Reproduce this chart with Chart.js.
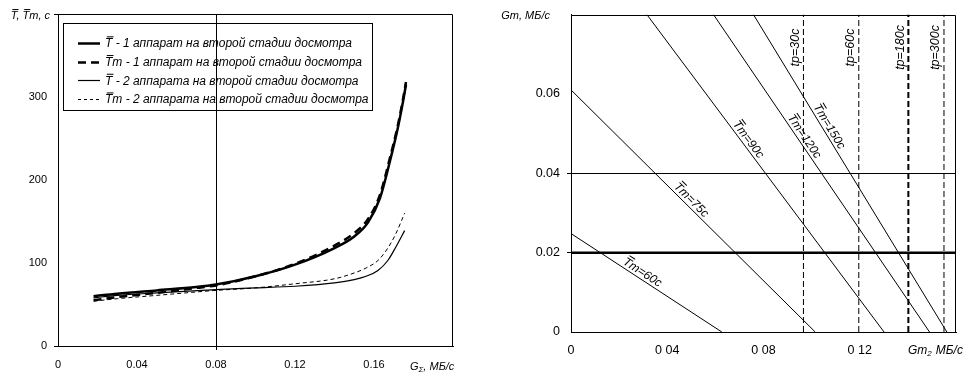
<!DOCTYPE html>
<html>
<head>
    <title>Время досмотра</title>
    <script src="https://cdn.jsdelivr.net/npm/chart.js"></script>
    <style>
        body { margin: 0; background: #fff; }
        canvas { position: absolute; top: 0; }
        #leftChart { left: 0; }
        #rightChart { left: 488px; }
    </style>
</head>
<body>
    <canvas id="leftChart" width="488" height="383"></canvas>
    <canvas id="rightChart" width="488" height="383"></canvas>

    <script>
        // left chart: T and Tm vs G
        const leftXTicks = ['0', '0.04', '0.08', '0.12', '0.16', ''];
        const leftYTicks = ['0', '100', '200', '300', ''];
        const legendLabels = [
            'T - 1 аппарат на второй стадии досмотра',
            'Tm - 1 аппарат на второй стадии досмотра',
            'T - 2 аппарата на второй стадии досмотра',
            'Tm - 2 аппарата на второй стадии досмотра'
        ];
        const g1 = [0.018, 0.03, 0.05, 0.07, 0.08, 0.1, 0.12, 0.14, 0.15, 0.157, 0.163, 0.168, 0.172, 0.1745, 0.1762];
        const t1 = [60, 63, 67, 71, 74, 84, 98, 118, 132, 149, 178, 222, 262, 292, 315];
        const tm1 = [55, 59, 64, 70, 73, 84, 99, 121, 136, 153, 182, 226, 265, 295, 318];
        const g2 = [0.018, 0.03, 0.05, 0.08, 0.1, 0.12, 0.14, 0.15, 0.156, 0.162, 0.167, 0.171, 0.1755];
        const t2 = [58, 61, 64, 68, 70, 72, 76, 80, 84, 91, 103, 119, 139];
        const tm2 = [54, 57, 61, 67, 70, 75, 81, 88, 94, 103, 118, 135, 160];

        // right chart: Tm and tp lines
        const rightXTicks = ['0', '0 04', '0 08', '0 12', ''];
        const rightYTicks = ['0', '0.02', '0.04', '0.06', ''];
        const tmNames = ['Tm=60с', 'Tm=75с', 'Tm=90с', 'Tm=120с', 'Tm=150с'];
        const tmStartX = [0, 0, 0.0315, 0.0592, 0.0758];
        const tmStartY = [0.0248, 0.061, 0.08, 0.08, 0.08];
        const tmEndX = [0.0627, 0.1015, 0.1301, 0.149, 0.1562];
        const tmEndY = [0, 0, 0, 0, 0];
        const tpNames = ['tp=30с', 'tp=60с', 'tp=180с', 'tp=300с'];
        const tpX = [0.0966, 0.1196, 0.1402, 0.155];
        const limitG = 0.02; // thick horizontal line

        const FONT = "'Liberation Sans', Arial, sans-serif";
        const toPts = (xs, ys) => xs.map((x, i) => ({ x: x, y: ys[i] }));
        const near = (a, b) => Math.abs(a - b) < 1e-9;

        // draws text where every 'T' gets a bar over it
        function barText(ctx, text, x, y, align) {
            const w = ctx.measureText(text).width;
            let x0 = x;
            if (align === 'right') x0 = x - w;
            if (align === 'center') x0 = x - w / 2;
            ctx.textAlign = 'left';
            ctx.fillText(text, x0, y);
            const fs = parseFloat(ctx.font.match(/([\d.]+)px/)[1]);
            const mt = ctx.measureText('T');
            const top = y - mt.actualBoundingBoxAscent;
            let idx = text.indexOf('T');
            while (idx >= 0) {
                const a = ctx.measureText(text.slice(0, idx)).width;
                ctx.fillRect(x0 + a + fs * 0.15, top - 2, mt.width - fs * 0.05, 1);
                idx = text.indexOf('T', idx + 1);
            }
            return w;
        }

        // top and right edges of the plot box (left/bottom come from the axes)
        const framePlugin = {
            id: 'frame',
            afterDatasetsDraw(chart) {
                const a = chart.chartArea, ctx = chart.ctx;
                const t = Math.round(a.top) + 0.5, r = Math.round(a.right) - 0.5;
                ctx.save();
                ctx.strokeStyle = '#000';
                ctx.lineWidth = 1;
                ctx.beginPath();
                ctx.moveTo(Math.round(a.left), t);
                ctx.lineTo(r, t);
                ctx.lineTo(r, Math.round(a.bottom));
                ctx.stroke();
                ctx.restore();
            }
        };

        const leftDeco = {
            id: 'leftDeco',
            afterDraw(chart) {
                const ctx = chart.ctx, xs = chart.scales.x, ys = chart.scales.y;
                ctx.save();
                ctx.fillStyle = '#000';
                ctx.textBaseline = 'middle';
                ctx.font = 'italic 11px ' + FONT;
                barText(ctx, 'T, Tm, c', 50, ys.getPixelForValue(400) + 2, 'right');
                // x axis title with subscript
                let gx = xs.getPixelForValue(0.2) - 43, gy = 367;
                ctx.textAlign = 'left';
                ctx.fillText('G', gx, gy);
                gx += ctx.measureText('G').width;
                ctx.font = 'italic 8px ' + FONT;
                ctx.fillText('Σ', gx, gy + 3);
                gx += ctx.measureText('Σ').width;
                ctx.font = 'italic 11px ' + FONT;
                ctx.fillText(', МБ/с', gx, gy);

                // legend box
                const bx = 63, by = 23, bw = 309, bh = 87;
                ctx.strokeStyle = '#000';
                ctx.lineWidth = 1;
                ctx.strokeRect(bx + 0.5, by + 0.5, bw, bh);
                ctx.font = 'italic 12px ' + FONT;
                chart.data.datasets.forEach((ds, i) => {
                    const ry = 43 + i * 18.7;
                    ctx.save();
                    ctx.lineWidth = ds.borderWidth;
                    ctx.setLineDash(ds.legendDash || []);
                    ctx.beginPath();
                    ctx.moveTo(78, Math.round(ry) + 0.5);
                    ctx.lineTo(100, Math.round(ry) + 0.5);
                    ctx.stroke();
                    ctx.restore();
                    ctx.textBaseline = 'middle';
                    barText(ctx, ds.label, 105, ry + 1, 'left');
                });
                ctx.restore();
            }
        };

        new Chart(document.getElementById('leftChart'), {
            type: 'scatter',
            data: {
                datasets: [{
                    label: legendLabels[0],
                    data: toPts(g1, t1),
                    borderColor: '#000',
                    borderWidth: 2.5,
                    legendDash: []
                }, {
                    label: legendLabels[1],
                    data: toPts(g1, tm1),
                    borderColor: '#000',
                    borderWidth: 2.5,
                    borderDash: [8, 5],
                    legendDash: [8, 5]
                }, {
                    label: legendLabels[2],
                    data: toPts(g2, t2),
                    borderColor: '#000',
                    borderWidth: 1.2,
                    legendDash: []
                }, {
                    label: legendLabels[3],
                    data: toPts(g2, tm2),
                    borderColor: '#000',
                    borderWidth: 1,
                    borderDash: [4, 3],
                    legendDash: [3, 3]
                }]
            },
            options: {
                responsive: false,
                animation: false,
                showLine: true,
                elements: {
                    point: { radius: 0, hoverRadius: 0 },
                    line: { cubicInterpolationMode: 'monotone', fill: false }
                },
                layout: { padding: { top: 14, right: 35, left: 0, bottom: 0 } },
                plugins: { legend: { display: false }, tooltip: { enabled: false } },
                scales: {
                    x: {
                        type: 'linear',
                        min: 0,
                        max: 0.2,
                        afterFit: s => { s.height = 37; s.paddingLeft = 0; s.paddingRight = 0; },
                        ticks: {
                            stepSize: 0.04,
                            padding: 8,
                            color: '#000',
                            font: { family: FONT, size: 11 },
                            maxRotation: 0,
                            callback: (v, i) => leftXTicks[i]
                        },
                        grid: {
                            color: c => (c.tick && near(c.tick.value, 0.08)) ? '#000' : 'rgba(0,0,0,0)',
                            tickColor: c => (c.tick && near(c.tick.value, 0.08)) ? '#000' : 'rgba(0,0,0,0)',
                            tickLength: 4
                        },
                        border: { color: '#000', width: 1 }
                    },
                    y: {
                        min: 0,
                        max: 400,
                        afterFit: s => { s.width = 58; },
                        ticks: {
                            stepSize: 100,
                            padding: 7,
                            color: '#000',
                            font: { family: FONT, size: 11 },
                            callback: (v, i) => leftYTicks[i]
                        },
                        grid: {
                            color: 'rgba(0,0,0,0)',
                            tickColor: c => (c.tick && (c.tick.value === 0 || c.tick.value === 400)) ? '#000' : 'rgba(0,0,0,0)',
                            tickLength: 4
                        },
                        border: { color: '#000', width: 1 }
                    }
                }
            },
            plugins: [framePlugin, leftDeco]
        });

        // where the Tm labels sit along their lines (x value)
        const tmLabelAt = [0.0282, 0.0481, 0.0715, 0.0947, 0.105];

        const rightDeco = {
            id: 'rightDeco',
            afterDraw(chart) {
                const ctx = chart.ctx, xs = chart.scales.x, ys = chart.scales.y;
                ctx.save();
                ctx.fillStyle = '#000';
                ctx.textBaseline = 'middle';
                ctx.font = 'italic 11px ' + FONT;
                ctx.textAlign = 'right';
                ctx.fillText('Gm, МБ/с', 62, ys.getPixelForValue(0.08) + 1);
                let gx = 420, gy = 351;
                ctx.textAlign = 'left';
                ctx.font = 'italic 12px ' + FONT;
                ctx.fillText('Gm', gx, gy);
                gx += ctx.measureText('Gm').width;
                ctx.font = 'italic 8px ' + FONT;
                ctx.fillText('2', gx, gy + 3);
                gx += ctx.measureText('2').width + 4;
                ctx.font = 'italic 12px ' + FONT;
                ctx.fillText('МБ/с', gx, gy);

                // Tm labels along lines
                ctx.font = 'italic 12px ' + FONT;
                tmNames.forEach((name, i) => {
                    const x1 = xs.getPixelForValue(tmStartX[i]), y1 = ys.getPixelForValue(tmStartY[i]);
                    const x2 = xs.getPixelForValue(tmEndX[i]), y2 = ys.getPixelForValue(tmEndY[i]);
                    const ang = Math.atan2(y2 - y1, x2 - x1);
                    const t = (tmLabelAt[i] - tmStartX[i]) / (tmEndX[i] - tmStartX[i]);
                    const vy = tmStartY[i] + t * (tmEndY[i] - tmStartY[i]);
                    ctx.save();
                    ctx.translate(xs.getPixelForValue(tmLabelAt[i]), ys.getPixelForValue(vy));
                    ctx.rotate(ang);
                    ctx.textBaseline = 'alphabetic';
                    barText(ctx, name, 0, -3, 'center');
                    ctx.restore();
                });

                // tp labels, vertical
                ctx.font = 'italic 12.5px ' + FONT;
                tpNames.forEach((name, i) => {
                    ctx.save();
                    ctx.translate(xs.getPixelForValue(tpX[i]) - 8, ys.getPixelForValue(0.0717));
                    ctx.rotate(-Math.PI / 2);
                    ctx.textAlign = 'center';
                    ctx.textBaseline = 'middle';
                    ctx.fillText(name, 0, 0);
                    ctx.restore();
                });
                ctx.restore();
            }
        };

        const rightSets = [{
            label: 'limit',
            data: [{ x: 0, y: limitG }, { x: 0.16, y: limitG }],
            borderColor: '#000',
            borderWidth: 2.5
        }];
        tmNames.forEach((name, i) => {
            rightSets.push({
                label: name,
                data: [{ x: tmStartX[i], y: tmStartY[i] }, { x: tmEndX[i], y: tmEndY[i] }],
                borderColor: '#000',
                borderWidth: 1
            });
        });
        tpNames.forEach((name, i) => {
            rightSets.push({
                label: name,
                data: [{ x: tpX[i], y: 0 }, { x: tpX[i], y: 0.08 }],
                borderColor: '#000',
                borderWidth: i === 2 ? 2 : 1,
                borderDash: [6, 3]
            });
        });

        const onRightGrid = c => c.tick && (near(c.tick.value, 0.02) || near(c.tick.value, 0.04));

        new Chart(document.getElementById('rightChart'), {
            type: 'scatter',
            data: { datasets: rightSets },
            options: {
                responsive: false,
                animation: false,
                showLine: true,
                elements: { point: { radius: 0, hoverRadius: 0 } },
                layout: { padding: { top: 14, right: 20, left: 0, bottom: 0 } },
                plugins: { legend: { display: false }, tooltip: { enabled: false } },
                scales: {
                    x: {
                        type: 'linear',
                        min: 0,
                        max: 0.16,
                        afterFit: s => { s.height = 51; s.paddingLeft = 0; s.paddingRight = 0; },
                        ticks: {
                            stepSize: 0.04,
                            padding: 7,
                            color: '#000',
                            font: { family: FONT, size: 12.5 },
                            maxRotation: 0,
                            callback: (v, i) => rightXTicks[i]
                        },
                        grid: { color: 'rgba(0,0,0,0)', tickColor: 'rgba(0,0,0,0)', tickLength: 4 },
                        border: { color: '#000', width: 1 }
                    },
                    y: {
                        min: 0,
                        max: 0.08,
                        afterFit: s => { s.width = 83; },
                        ticks: {
                            stepSize: 0.02,
                            padding: 7,
                            color: '#000',
                            font: { family: FONT, size: 12.5 },
                            callback: (v, i) => rightYTicks[i]
                        },
                        grid: {
                            color: c => onRightGrid(c) ? '#000' : 'rgba(0,0,0,0)',
                            tickColor: c => onRightGrid(c) ? '#000' : 'rgba(0,0,0,0)',
                            tickLength: 4
                        },
                        border: { color: '#000', width: 1 }
                    }
                }
            },
            plugins: [framePlugin, rightDeco]
        });
    </script>
</body>
</html>
